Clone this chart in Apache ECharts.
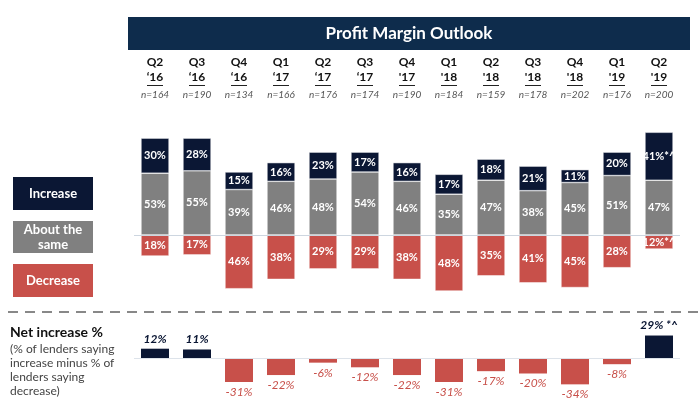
<!DOCTYPE html>
<html>
<head>
<meta charset="utf-8">
<script src="https://cdn.jsdelivr.net/npm/echarts@6/dist/echarts.min.js"></script>
<style>
  html, body { margin: 0; padding: 0; background: #fff; }
  #main { width: 700px; height: 402px; }
</style>
</head>
<body>
<div id="main"></div>
<script>
// quarter / year / sample size per column
var quarters = ['Q2', 'Q3', 'Q4', 'Q1', 'Q2', 'Q3', 'Q4', 'Q1', 'Q2', 'Q3', 'Q4', 'Q1', 'Q2'];
var years = ['\u201816', '\u201816', '\u201816', '\u201817', '\u201817', '\u201817', "'17", "'18", "'18", "'18", "'18", "'19", "'19"];
var samples = [164, 190, 134, 166, 176, 174, 190, 184, 159, 178, 202, 176, 200];

// % of lenders
var increase = [30, 28, 15, 16, 23, 17, 16, 17, 18, 21, 11, 20, 41];
var same = [53, 55, 39, 46, 48, 54, 46, 35, 47, 38, 45, 51, 47];
var decrease = [18, 17, 46, 38, 29, 29, 38, 48, 35, 41, 45, 28, 12];
var netIncrease = [12, 11, -31, -22, -6, -12, -22, -31, -17, -20, -34, -8, 29];
var notes = ['', '', '', '', '', '', '', '', '', '', '', '', '*^'];

var NAVY = '#0b1734';
var GRAY = '#808080';
var RED = '#c8504a';
var FONT = 'Lato';

var categories = quarters.map(function (q, i) { return q + ' ' + years[i]; });

var chart = echarts.init(document.getElementById('main'));

var inLabel = {
    show: true,
    position: 'inside',
    color: '#fff',
    fontFamily: FONT,
    fontWeight: 'bold',
    fontSize: 11
};

function legendBox(y, h, color, text) {
    return {
        type: 'rect',
        shape: { x: 13, y: y, width: 80, height: h },
        style: { fill: color },
        textContent: {
            style: { text: text, fill: '#fff', font: 'bold 13px ' + FONT, align: 'center', lineHeight: 15 }
        },
        textConfig: { position: 'inside' }
    };
}

var option = {
    animation: false,
    grid: [
        { left: 134, width: 546, top: 130, height: 175 },
        { left: 134, width: 546, top: 327, height: 62 }
    ],
    xAxis: [
        {
            type: 'category', gridIndex: 0, data: categories, position: 'top',
            axisLine: { show: false }, axisTick: { show: false },
            axisLabel: {
                interval: 0, margin: 26,
                formatter: function (v, i) {
                    return '{q|' + quarters[i] + '}\n{y|' + years[i] + '}\n{n|n=' + samples[i] + '}';
                },
                rich: {
                    q: { fontFamily: FONT, fontWeight: 'bold', fontSize: 12, color: '#111', lineHeight: 15 },
                    y: { fontFamily: FONT, fontWeight: 'bold', fontSize: 12, color: '#111', lineHeight: 15 },
                    n: { fontFamily: FONT, fontStyle: 'italic', fontSize: 10, color: '#555', lineHeight: 19 }
                }
            }
        },
        {
            type: 'category', gridIndex: 1, data: categories,
            axisLine: { show: false }, axisTick: { show: false }, axisLabel: { show: false }
        }
    ],
    yAxis: [
        { type: 'value', gridIndex: 0, min: -60, max: 90, show: false },
        { type: 'value', gridIndex: 1, min: -40, max: 40, show: false }
    ],
    series: [
        {
            name: 'About the same', type: 'bar', stack: 'pm', barWidth: 28,
            xAxisIndex: 0, yAxisIndex: 0, data: same,
            itemStyle: { color: GRAY, borderColor: '#fff', borderWidth: 0.5 },
            label: Object.assign({}, inLabel, { formatter: '{c}%' }),
            markLine: {
                silent: true, symbol: 'none', label: { show: false },
                lineStyle: { color: '#cdd6e0', width: 1, type: 'solid' },
                data: [{ yAxis: 0 }]
            }
        },
        {
            name: 'Increase', type: 'bar', stack: 'pm', barWidth: 28,
            xAxisIndex: 0, yAxisIndex: 0, data: increase,
            itemStyle: { color: NAVY, borderColor: '#fff', borderWidth: 0.5 },
            label: Object.assign({}, inLabel, {
                formatter: function (p) { return p.value + '%' + notes[p.dataIndex]; }
            })
        },
        {
            name: 'Decrease', type: 'bar', stack: 'pm', barWidth: 28,
            xAxisIndex: 0, yAxisIndex: 0,
            data: decrease.map(function (v) { return -v; }),
            itemStyle: { color: RED, borderColor: '#fff', borderWidth: 0.5 },
            label: Object.assign({}, inLabel, {
                formatter: function (p) { return (-p.value) + '%' + notes[p.dataIndex]; }
            })
        },
        {
            name: 'Net increase', type: 'bar', barWidth: 28,
            xAxisIndex: 1, yAxisIndex: 1,
            data: netIncrease.map(function (v, i) {
                var pos = v >= 0;
                return {
                    value: v,
                    itemStyle: { color: pos ? NAVY : RED },
                    label: {
                        position: pos ? 'top' : 'bottom',
                        color: pos ? NAVY : RED,
                        fontWeight: pos ? 'bold' : 'normal',
                        formatter: v + '%' + (notes[i] ? ' ' + notes[i] : '')
                    }
                };
            }),
            label: { show: true, fontFamily: FONT, fontStyle: 'italic', fontSize: 12, distance: 4 },
            markLine: {
                silent: true, symbol: 'none', label: { show: false },
                lineStyle: { color: '#dde3ea', width: 1, type: 'solid' },
                data: [{ yAxis: 0 }]
            }
        }
    ],
    graphic: [
        {
            type: 'rect',
            shape: { x: 128, y: 17, width: 562, height: 33 },
            style: { fill: '#0e2c4c' },
            textContent: { style: { text: 'Profit Margin Outlook', fill: '#fff', font: 'bold 17px ' + FONT } },
            textConfig: { position: 'inside' }
        },
        legendBox(177, 33, NAVY, 'Increase'),
        legendBox(221, 32, GRAY, 'About the\nsame'),
        legendBox(264, 33, RED, 'Decrease'),
        {
            type: 'line',
            shape: { x1: 8, y1: 312, x2: 700, y2: 312 },
            style: { stroke: '#888', lineWidth: 2, lineDash: [10, 7] }
        },
        {
            type: 'text', left: 10, top: 325,
            style: { text: 'Net increase %', fill: '#111', font: 'bold 14px ' + FONT }
        },
        {
            type: 'text', left: 10, top: 342,
            style: {
                text: '(% of lenders saying\nincrease minus % of\nlenders saying\ndecrease)',
                fill: '#444', font: '12px ' + FONT, lineHeight: 14
            }
        }
    ]
};

chart.setOption(option);

// underline the year under each quarter, placed from the category axis
var underlines = categories.map(function (c, i) {
    var x = chart.convertToPixel({ xAxisIndex: 0 }, i);
    return {
        type: 'rect',
        shape: { x: x - 8, y: 85, width: 16, height: 1 },
        style: { fill: '#222' }
    };
});
chart.setOption({ graphic: option.graphic.concat(underlines) });
</script>
</body>
</html>
